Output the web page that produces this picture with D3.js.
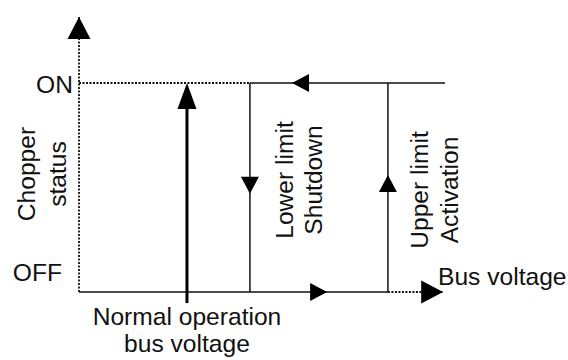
<!DOCTYPE html>
<html lang="en">
<head>
    <meta charset="UTF-8">
    <script type="text/javascript" src="https://d3js.org/d3.v7.min.js"></script>
    <title>Chopper hysteresis</title>
    <style>
        body { margin: 0; background: #fff; }
        text { font-family: "Liberation Sans", Arial, sans-serif; font-size: 24.6px; fill: #111; }
    </style>
</head>
<body>
    <svg id="svg"></svg>
    <script>
        const width = 568;
        const height = 360;

        // status levels and bus voltage thresholds (0..100 relative scale)
        const levels = ["OFF", "ON"];
        const statusValues = [0, 1];
        const normalV = 29.5;
        const lowerV = 46.7;
        const upperV = 84.4;
        const axisEndV = 99.5;
        const onEndV = 100;
        const axisTopS = 1.316;

        // solid hysteresis loop
        const loopSegments = [
            [[0, 0], [upperV, 0]],
            [[upperV, 0], [upperV, 1]],
            [[onEndV, 1], [lowerV, 1]],
            [[lowerV, 1], [lowerV, 0]]
        ];
        // dotted guides / axes
        const dottedSegments = [
            [[0, 0], [0, axisTopS]],
            [[0, 1], [lowerV, 1]],
            [[upperV, 0], [axisEndV, 0]]
        ];
        // arrow heads: [x, y, direction, kind]
        const arrows = [
            [0, axisTopS, "up", "big"],
            [axisEndV, 0, "right", "big"],
            [58.2, 1, "left", "mid"],
            [67.8, 0, "right", "mid"],
            [lowerV, 0.47, "down", "mid"],
            [upperV, 0.56, "up", "mid"],
            [normalV, 1, "up", "tall"]
        ];
        const yLabels = ["ON", "OFF"];
        const yTitle = ["Chopper", "status"];
        const lowerLabel = ["Lower limit", "Shutdown"];
        const upperLabel = ["Upper limit", "Activation"];
        const xTitle = "Bus voltage";
        const normalLabel = ["Normal operation", "bus voltage"];

        const x = d3.scaleLinear().domain([0, 100]).range([79, 445]);
        const y = d3.scaleLinear().domain([0, 1]).range([292, 83]);

        const svg = d3.select("#svg").attr("width", width).attr("height", height);
        svg.append("rect").attr("width", width).attr("height", height).attr("fill", "#fff");

        const line = d3.line().x(d => x(d[0])).y(d => y(d[1]));

        dottedSegments.forEach(s => {
            svg.append("path").attr("d", line(s))
                .attr("stroke", "#111").attr("stroke-width", 1.8)
                .attr("stroke-dasharray", "2,1.5").attr("fill", "none");
        });
        loopSegments.forEach(s => {
            svg.append("path").attr("d", line(s))
                .attr("stroke", "#111").attr("stroke-width", 1.5).attr("fill", "none");
        });

        // normal operation marker (thick line crossing OFF level)
        svg.append("path").attr("d", line([[normalV, -0.053], [normalV, 0.9]]))
            .attr("stroke", "#000").attr("stroke-width", 3).attr("fill", "none");

        const sizes = {big: [22, 11.5], mid: [17, 9], tall: [26, 9.5]};
        arrows.forEach(([vx, vy, dir, kind]) => {
            const [len, half] = sizes[kind];
            const tx = x(vx), ty = y(vy);
            let pts;
            if (dir === "up") pts = [[tx, ty], [tx - half, ty + len], [tx + half, ty + len]];
            if (dir === "down") pts = [[tx, ty], [tx - half, ty - len], [tx + half, ty - len]];
            if (dir === "right") pts = [[tx, ty], [tx - len, ty - half], [tx - len, ty + half]];
            if (dir === "left") pts = [[tx, ty], [tx + len, ty - half], [tx + len, ty + half]];
            svg.append("polygon").attr("points", pts.map(p => p.join(",")).join(" ")).attr("fill", "#000");
        });

        // level labels
        svg.append("text").attr("x", x(0) - 6).attr("y", y(1) + 9.5)
            .attr("text-anchor", "end").text(yLabels[0]);
        svg.append("text").attr("x", x(0) - 17).attr("y", y(0) - 11)
            .attr("text-anchor", "end").text(yLabels[1]);

        function vertical(lines, bx, cy, gap) {
            lines.forEach((t, i) => {
                svg.append("text")
                    .attr("transform", `translate(${bx + i * gap},${cy}) rotate(-90)`)
                    .attr("text-anchor", "middle").text(t);
            });
        }
        vertical(yTitle, 35, 174, 31);
        vertical(lowerLabel, x(lowerV) + 43, 180, 29);
        vertical(upperLabel, x(upperV) + 40, 190, 30);

        svg.append("text").attr("x", 438).attr("y", 285).text(xTitle);

        normalLabel.forEach((t, i) => {
            svg.append("text").attr("x", x(normalV)).attr("y", 325 + i * 27)
                .attr("text-anchor", "middle").text(t);
        });
    </script>
</body>
</html>
